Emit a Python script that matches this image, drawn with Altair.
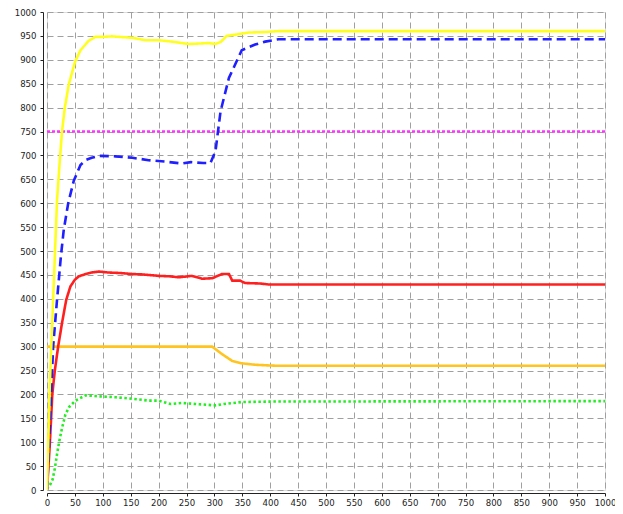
import altair as alt
import pandas as pd

# ---- data ----
yellow_x = [0, 5, 11, 18, 23, 27, 32, 39, 50, 60, 75, 87, 100, 117, 153, 176, 200, 224, 254, 272, 290, 302, 312, 322, 340, 361, 390, 415, 1000]
yellow_y = [0, 220, 398, 606, 690, 751, 800, 848, 895, 920, 940, 948, 948, 949, 946, 941, 941, 938, 933, 934, 935, 933, 938, 950, 953, 957, 958, 960, 960]

blue_x = [0, 5, 11, 18, 25, 30, 38, 48, 60, 69, 80, 93, 123, 153, 182, 212, 242, 258, 280, 293, 302, 311, 326, 349, 373, 391, 415, 1000]
blue_y = [0, 130, 300, 398, 490, 544, 600, 647, 680, 690, 695, 699, 698, 695, 690, 687, 683, 686, 684, 684, 709, 792, 862, 920, 932, 938, 943, 943]

red_x = [0, 5, 9.5, 14, 20, 27, 34.5, 42, 50, 57, 70, 80, 93, 110, 130, 150, 170, 200, 220, 236, 260, 278, 296, 314, 326, 332, 346, 355, 382, 397, 1000]
red_y = [0, 95, 200, 250, 300, 350, 398, 426, 440, 447, 452, 455, 457, 455, 454, 452, 451, 448, 447, 445, 448, 442, 443, 452, 452, 438, 438, 433, 432, 430, 430]

orange_x = [0, 296, 314, 332, 349, 373, 409, 1000]
orange_y = [300, 300, 284, 270, 265, 262, 260, 260]

green_x = [0, 6, 10, 14, 18, 22, 27, 33, 40, 51, 69, 93, 123, 153, 182, 200, 221, 242, 266, 290, 302, 317, 349, 403, 1000]
green_y = [2, 12, 22, 45, 75, 102, 130, 158, 174, 187, 198, 196, 194, 191, 187, 187, 180, 182, 180, 178, 177, 180, 184, 185, 186]

magenta_x = [0, 1000]
magenta_y = [750, 750]

series_names = ["magenta", "orange", "green", "red", "blue", "yellow"]
series_colors = ["#ff33ff", "#ffc41f", "#22ee22", "#ff1f1f", "#1f1fff", "#ffff1f"]
series_dash = [[3, 2], [1, 0], [2.5, 2.5], [1, 0], [9, 5], [1, 0]]

ticks = list(range(0, 1001, 50))

rows = []
for name, xs, ys in [("magenta", magenta_x, magenta_y), ("orange", orange_x, orange_y),
                     ("green", green_x, green_y), ("red", red_x, red_y),
                     ("blue", blue_x, blue_y), ("yellow", yellow_x, yellow_y)]:
    for i, (a, b) in enumerate(zip(xs, ys)):
        rows.append({"series": name, "x": a, "y": b, "idx": i})
df = pd.DataFrame(rows)

axis_common = dict(
    values=ticks, format="d", grid=True, gridColor="#a0a0a0", gridDash=[6, 4], gridWidth=1,
    domainColor="#222222", domainWidth=1, tickColor="#222222", tickSize=3,
    labelFont="DejaVu Sans Condensed, DejaVu Sans", labelFontSize=9.5, labelColor="#222222",
    labelFlush=False, labelOverlap=False, title=None,
)

layers = []
for name, col, dash in zip(series_names, series_colors, series_dash):
    layers.append(
        alt.Chart(df[df.series == name]).mark_line(
            color=col, strokeWidth=2.6, strokeDash=dash, clip=True
        ).encode(
            x=alt.X("x:Q", scale=alt.Scale(domain=[0, 1000], nice=False),
                    axis=alt.Axis(labelPadding=1, offset=3, **axis_common)),
            y=alt.Y("y:Q", scale=alt.Scale(domain=[0, 1000], nice=False),
                    axis=alt.Axis(labelPadding=4, offset=4, **axis_common)),
            order="idx:Q",
        )
    )

chart = alt.layer(*layers).properties(
    width=558, height=478,
    autosize=alt.AutoSizeParams(type="none"),
    padding={"left": 39, "top": 4, "right": 10, "bottom": 16},
).configure_view(stroke=None).configure(background="white")

chart.save("out.html", embed_options={"renderer": "svg", "actions": False})
